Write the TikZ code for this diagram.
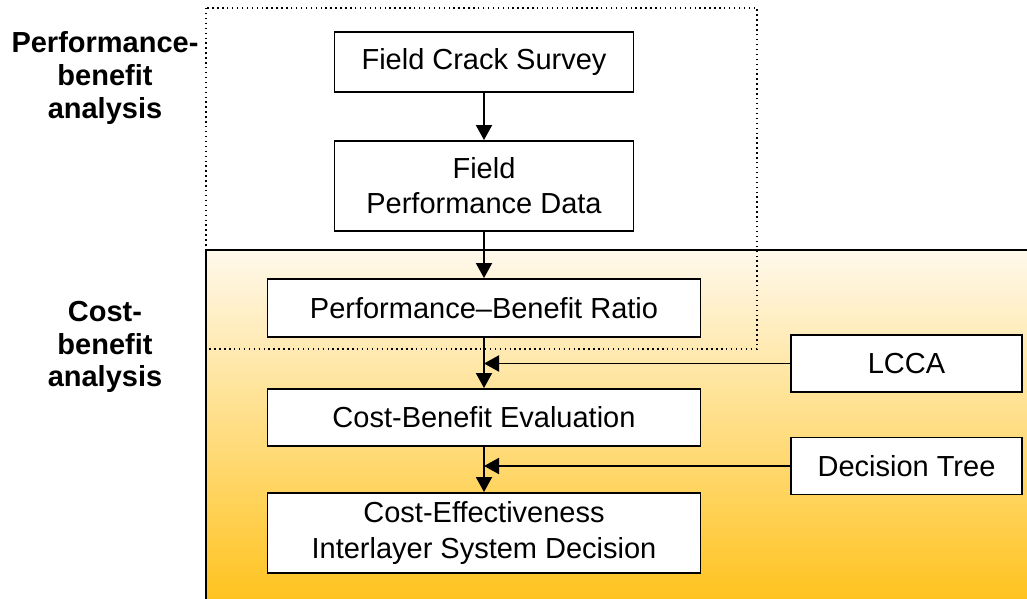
\documentclass[tikz,border=0pt]{standalone}
\usepackage{fontspec}
\setmainfont{Liberation Sans}
\usepackage{tikz}
\usetikzlibrary{arrows.meta}
\definecolor{shadetop}{HTML}{FFF9EC}
\definecolor{shadebot}{HTML}{FFC21C}

\begin{document}
\begin{tikzpicture}[
        stage/.style={draw,line width=1.1pt,fill=white,minimum width=8.66cm,minimum height=1.14cm,align=center,font=\fontsize{16.5}{20}\selectfont},
        side/.style={stage,minimum width=4.62cm},
        flow/.style={line width=1.1pt,-{Triangle[length=3mm,width=3.2mm]}},
        grouplabel/.style={align=center,font=\bfseries\fontsize{16.5}{18.5}\selectfont}
    ]
        \useasboundingbox (0,0) rectangle (20.54,-11.98);

        % cost-benefit region
        \shade[top color=shadetop,bottom color=shadebot] (4.12,-5.0) rectangle (20.7,-12.1);
        \draw[line width=1.1pt] (4.12,-12.1)--(4.12,-5.0)--(20.7,-5.0);

        % performance-benefit region
        \draw[dotted,line width=0.8pt] (4.12,-0.16) rectangle (15.14,-6.98);

        \node[grouplabel] (perflabel) at (2.1,-1.56) {Performance-\\benefit\\analysis};
        \node[grouplabel] (costlabel) at (2.1,-6.94) {Cost-\\benefit\\analysis};

        \node[stage,minimum width=5.98cm,minimum height=1.2cm] (survey) at (9.68,-1.24) {Field Crack Survey};
        \node[stage,minimum width=5.98cm,minimum height=1.8cm] (fielddata) at (9.68,-3.72) {Field\\Performance Data};
        \node[stage,minimum height=1.16cm] (ratio) at (9.68,-6.16) {Performance--Benefit Ratio};
        \node[stage] (evaluation) at (9.68,-8.35) {Cost-Benefit Evaluation};
        \node[stage,minimum height=1.6cm] (decision) at (9.68,-10.66) {Cost-Effectiveness\\Interlayer System Decision};

        \node[side] (lcca) at (18.13,-7.27) {LCCA};
        \node[side] (tree) at (18.13,-9.32) {Decision Tree};

        \draw[flow] (survey)--(fielddata);
        \draw[flow] (fielddata)--(ratio);
        \draw[flow] (ratio)--(evaluation);
        \draw[flow] (evaluation)--(decision);
        \draw[flow] (lcca.west)--(lcca.west -| ratio.south);
        \draw[flow] (tree.west)--(tree.west -| evaluation.south);
    \end{tikzpicture}
\end{document}
